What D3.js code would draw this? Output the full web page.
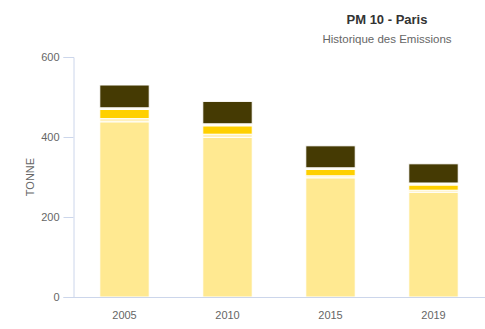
<!DOCTYPE html>
<html><head><meta charset="utf-8">
<script src="https://cdn.jsdelivr.net/npm/d3@7"></script>
<style>body{margin:0;background:#fff;font-family:"Liberation Sans",Arial,sans-serif;}</style>
</head><body><svg id="c" width="485" height="329"></svg>
<script>
const categories = ["2005", "2010", "2015", "2019"];
const seriesNames = ["s1", "s2", "s3", "s4", "s5"];
const s1 = [438, 399, 298, 262];
const s2 = [8, 8, 5, 5];
const s3 = [23, 21, 16, 13];
const s4 = [4, 5, 4, 5];
const s5 = [57, 56, 55, 48];
const colors = ["#ffe991", "#fff0bc", "#ffd000", "#fffbe8", "#453a03"];
const yTicks = [0, 200, 400, 600];

(function () {
const svg = d3.select("#c");
const mLeft = 73, mRight = 485, mTop = 57, mBottom = 297;
const x = d3.scaleBand().domain(categories).range([mLeft, mRight]).paddingInner(0.52).paddingOuter(0.26);
const y = d3.scaleLinear().domain([0, 600]).range([mBottom, mTop]);

const rows = categories.map((c, i) => ({cat: c, s1: s1[i], s2: s2[i], s3: s3[i], s4: s4[i], s5: s5[i]}));
const stacked = d3.stack().keys(seriesNames)(rows);

const yAxis = svg.append("g").attr("transform", `translate(${mLeft + 0.5},0)`)
  .call(d3.axisLeft(y).tickValues(yTicks).tickSize(10).tickPadding(4));
yAxis.select(".domain").attr("stroke", "#ccd6eb");
yAxis.selectAll(".tick line").attr("stroke", "#ccd6eb");
yAxis.selectAll(".tick text").attr("fill", "#666").style("font-size", "11px").style("font-family", "Liberation Sans, Arial, sans-serif");

svg.selectAll("g.layer").data(stacked).join("g").attr("class", "layer")
  .attr("fill", (d, i) => colors[i])
  .selectAll("rect").data(d => d).join("rect")
  .attr("x", d => x(d.data.cat))
  .attr("width", x.bandwidth())
  .attr("y", d => y(d[1]))
  .attr("height", d => Math.max(0, y(d[0]) - y(d[1])))
  .attr("stroke", "#fff").attr("stroke-width", 1);

const xAxis = svg.append("g").attr("transform", `translate(0,${mBottom + 0.5})`)
  .call(d3.axisBottom(x).tickSize(0).tickPadding(14));
xAxis.select(".domain").remove();
svg.append("line").attr("x1", 65).attr("x2", mRight).attr("y1", mBottom + 0.5).attr("y2", mBottom + 0.5).attr("stroke", "#ccd6eb");
xAxis.selectAll(".tick text").attr("fill", "#666").style("font-size", "11px").style("font-family", "Liberation Sans, Arial, sans-serif");

svg.append("text").attr("transform", `translate(34,${(mTop + mBottom) / 2}) rotate(-90)`)
  .attr("text-anchor", "middle").attr("fill", "#666").style("font-size", "11px").text("TONNE");

svg.append("text").attr("x", 387).attr("y", 24).attr("text-anchor", "middle")
  .attr("fill", "#333").style("font-size", "13px").style("font-weight", "bold").text("PM 10 - Paris");
svg.append("text").attr("x", 387).attr("y", 43).attr("text-anchor", "middle")
  .attr("fill", "#666").style("font-size", "11.5px").text("Historique des Emissions");
})();
</script></body></html>
